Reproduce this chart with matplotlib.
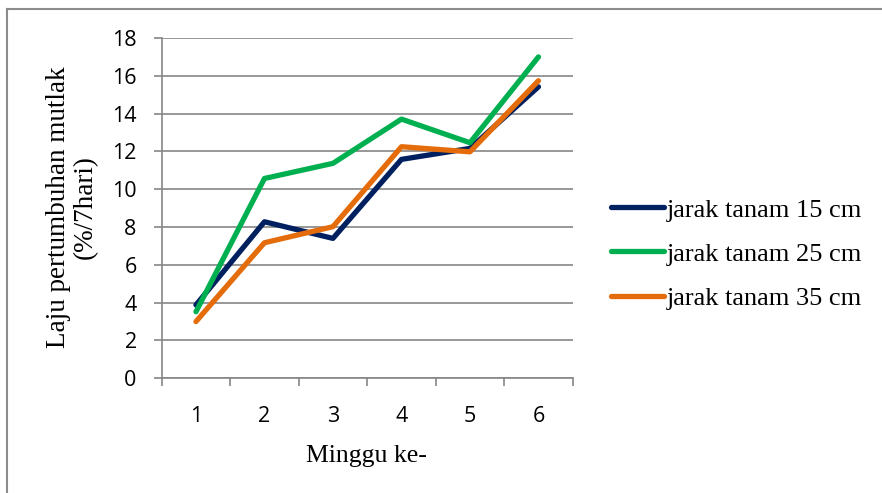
import matplotlib.pyplot as plt
from matplotlib.lines import Line2D

minggu = [1, 2, 3, 4, 5, 6]
jarak_15 = [3.88, 8.28, 7.40, 11.58, 12.16, 15.42]
jarak_25 = [3.52, 10.57, 11.37, 13.71, 12.46, 17.0]
jarak_35 = [3.0, 7.17, 8.02, 12.25, 11.98, 15.74]
labels = ["jarak tanam 15 cm", "jarak tanam 25 cm", "jarak tanam 35 cm"]
colors = ["#002060", "#00B050", "#E46C0A"]

serif = "Liberation Serif"
sans = "Open Sans"
grey = "#868686"

fig = plt.figure(figsize=(8.82, 4.93), dpi=100)
ax = fig.add_axes([161.7 / 882, 1 - 378.3 / 493, 411 / 882, 340.3 / 493])

for ys, lab, c in zip([jarak_15, jarak_25, jarak_35], labels, colors):
    ax.plot(minggu, ys, color=c, lw=3.8, label=lab, solid_capstyle="round")

ax.set_xlim(0.5, 6.5)
ax.set_ylim(0, 18)
ax.set_yticks(range(0, 19, 2))
ax.set_xticks(minggu)
ax.set_xticks([0.5 + i for i in range(7)], minor=True)
ax.tick_params(axis="x", which="major", length=0, pad=20, labelsize=15.5)
ax.tick_params(axis="x", which="minor", length=6, width=1.2, color=grey, direction="out")
ax.tick_params(axis="y", length=6, width=1.2, color=grey, pad=12, labelsize=15.5)
for t in ax.get_xticklabels() + ax.get_yticklabels():
    t.set_fontfamily(sans)

ax.grid(axis="y", color=grey, lw=1.2)
ax.set_axisbelow(True)
for s in ["top", "right"]:
    ax.spines[s].set_visible(False)
for s in ["left", "bottom"]:
    ax.spines[s].set_color(grey)
    ax.spines[s].set_linewidth(1.2)

fig.text(366 / 882, 1 - 456 / 493, "Minggu ke-", family=serif, fontsize=18.5,
         ha="center", va="center")
fig.text(72 / 882, 1 - 207 / 493, "Laju pertumbuhan mutlak\n(%/7hari)", family=serif,
         fontsize=19.5, rotation=90, ha="center", va="center", linespacing=1.1)

ax.legend(loc="center left", bbox_to_anchor=(611 / 882, 1 - 254 / 493),
          bbox_transform=fig.transFigure, frameon=False, borderpad=0, borderaxespad=0,
          handlelength=2.0, handletextpad=0.12, labelspacing=0.78,
          prop={"family": serif, "size": 19})

# thin border along the top and left edges
fig.add_artist(Line2D([6.5 / 882, 1], [1 - 8.5 / 493, 1 - 8.5 / 493], color="#8c8c8c", lw=1.5))
fig.add_artist(Line2D([6.5 / 882, 6.5 / 882], [0, 1 - 8.5 / 493], color="#8c8c8c", lw=1.5))

fig.savefig("out.png", dpi=100)
